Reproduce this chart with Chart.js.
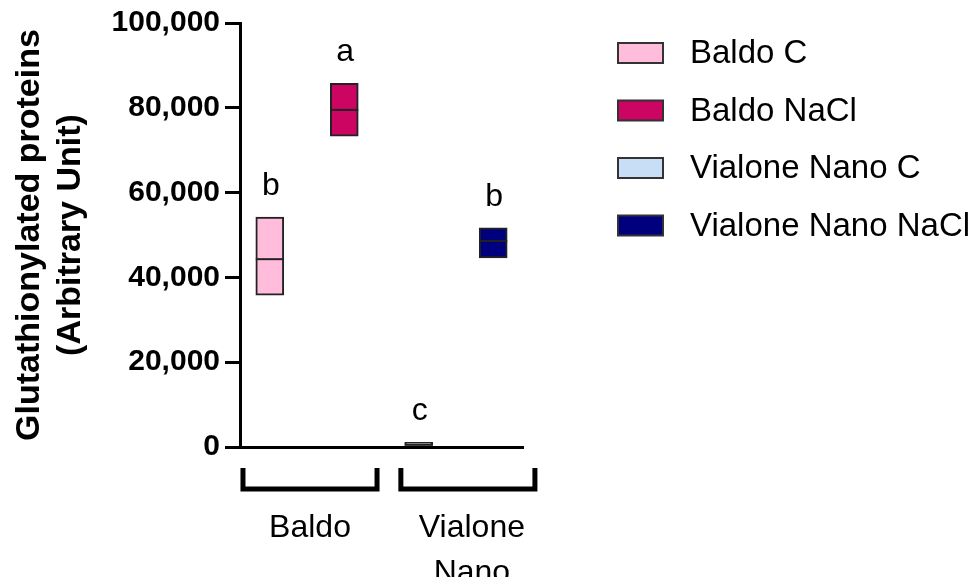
<!DOCTYPE html>
<html><head><meta charset="utf-8">
<script src="https://cdn.jsdelivr.net/npm/chart.js@4"></script>
<style>html,body{margin:0;padding:0;background:#fff}#wrap{width:976px;height:577px}</style>
</head><body><div id="wrap"><canvas id="c" width="976" height="577"></canvas></div>
<script>
// ---- data ----
const categories = ['Baldo C', 'Baldo NaCl', 'Vialone Nano C', 'Vialone Nano NaCl'];
const lows    = [35800, 73300,    0, 44600];
const highs   = [54200, 85800, 1100, 51700];
const medians = [44300, 79500,  550, 48600];
const letters = ['b', 'a', 'c', 'b'];
const groupLabels = [['Baldo'], ['Vialone', 'Nano']];
const groupSpans  = [[-0.36, 1.44], [1.76, 3.56]];
const yTicks = [0, 20000, 40000, 60000, 80000, 100000];
const fills = ['#FFBCDB', '#CC0563', '#C8DEF6', '#00007F'];

const FAMILY = "'Liberation Sans', Arial, Helvetica, sans-serif";
Chart.defaults.font.family = FAMILY;
Chart.defaults.color = '#000';

const decor = {
  id: 'decor',
  afterDatasetsDraw(chart) {
    const ctx = chart.ctx, y = chart.scales.y;
    ctx.save();
    categories.forEach((c, i) => {
      const bar = chart.getDatasetMeta(i).data[0];
      const w = bar.width;
      const ym = y.getPixelForValue(medians[i]);
      ctx.strokeStyle = '#222'; ctx.lineWidth = 2;
      ctx.beginPath(); ctx.moveTo(bar.x - w / 2, ym); ctx.lineTo(bar.x + w / 2, ym); ctx.stroke();
      const yt = y.getPixelForValue(highs[i]);
      ctx.fillStyle = '#000'; ctx.font = '32px ' + FAMILY;
      ctx.textAlign = 'center'; ctx.textBaseline = 'alphabetic';
      ctx.fillText(letters[i], bar.x + 1, yt - 22);
    });
    ctx.restore();
  },
  afterDraw(chart) {
    const ctx = chart.ctx, x = chart.scales.x;
    ctx.save();
    groupSpans.forEach((s, g) => {
      const x0 = x.getPixelForValue(s[0]), x1 = x.getPixelForValue(s[1]);
      ctx.strokeStyle = '#000'; ctx.lineWidth = 5; ctx.lineJoin = 'miter'; ctx.lineCap = 'butt';
      ctx.beginPath();
      ctx.moveTo(x0, 468); ctx.lineTo(x0, 489); ctx.lineTo(x1, 489); ctx.lineTo(x1, 468);
      ctx.stroke();
      ctx.fillStyle = '#000'; ctx.font = '32px ' + FAMILY;
      ctx.textAlign = 'center'; ctx.textBaseline = 'alphabetic';
      groupLabels[g].forEach((t, k) => ctx.fillText(t, (x0 + x1) / 2 + (g ? 4 : 0), 537 + k * 45));
    });
    categories.forEach((c, i) => {
      const cy = 53 + i * 57.5;
      ctx.fillStyle = fills[i];
      ctx.fillRect(618, cy - 10, 45, 20);
      ctx.strokeStyle = '#333'; ctx.lineWidth = 2;
      ctx.strokeRect(618, cy - 10, 45, 20);
      ctx.fillStyle = '#000'; ctx.font = '33px ' + FAMILY;
      ctx.textAlign = 'left'; ctx.textBaseline = 'middle';
      ctx.fillText(c, 690, cy + 1);
    });
    ctx.restore();
  }
};

new Chart(document.getElementById('c'), {
  type: 'bar',
  data: {
    datasets: categories.map((name, i) => ({
      label: name,
      data: [{ x: i, y: [lows[i], highs[i]] }],
      backgroundColor: fills[i],
      borderColor: '#222',
      borderWidth: 2,
      borderSkipped: false,
      barThickness: 28,
      grouped: false
    }))
  },
  options: {
    responsive: false,
    devicePixelRatio: 1,
    animation: false,
    layout: { padding: { left: 0, right: 453, top: 23, bottom: 0 } },
    plugins: { legend: { display: false }, tooltip: { enabled: false } },
    scales: {
      x: {
        type: 'linear', min: -0.4, max: 3.4, offset: false,
        ticks: { display: false },
        grid: { display: false, offset: false },
        border: { display: true, width: 3, color: '#000' },
        afterFit(s) { s.height = 130; }
      },
      y: {
        min: 0, max: 100000,
        afterBuildTicks(s) { s.ticks = yTicks.map(v => ({ value: v })); },
        ticks: {
          font: { size: 30, weight: 'bold' }, color: '#000', padding: 5,
          callback: v => v.toLocaleString('en-US')
        },
        grid: { drawOnChartArea: false, drawTicks: true, tickLength: 15, lineWidth: 3, color: '#000' },
        border: { display: true, width: 3, color: '#000' },
        title: {
          display: true, text: ['Glutathionylated proteins', '(Arbitrary Unit)'],
          font: { size: 34, weight: 'bold' }, color: '#000', padding: { top: 9, bottom: 0 }
        },
        afterFit(s) { s.width = 240; }
      }
    }
  },
  plugins: [decor]
});
</script>
</body></html>
